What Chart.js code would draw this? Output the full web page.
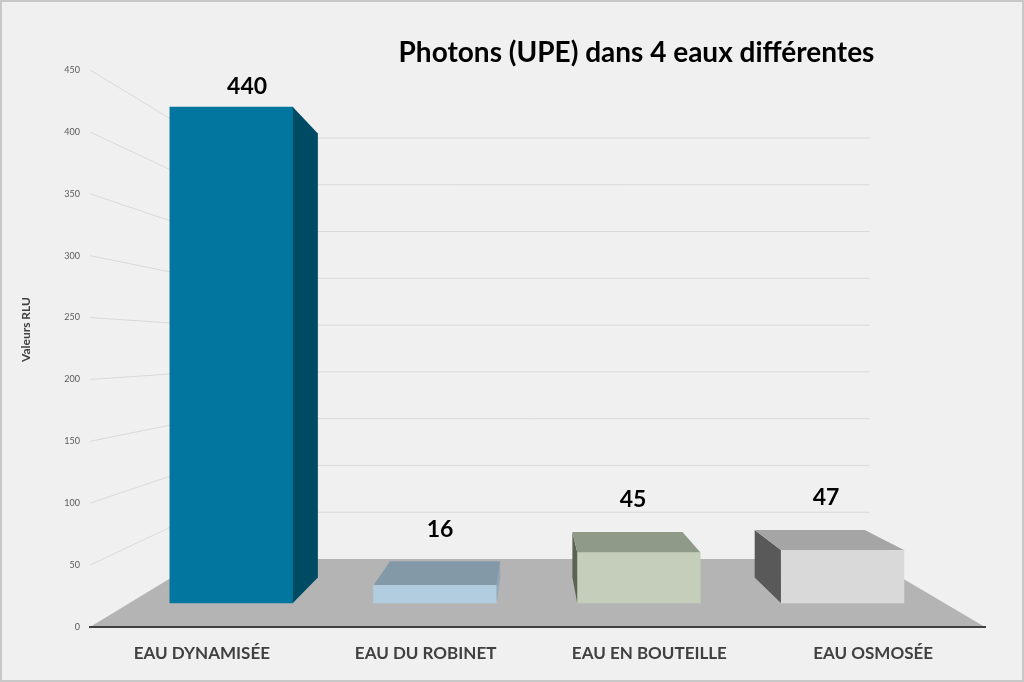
<!DOCTYPE html>
<html>
<head>
<meta charset="utf-8">
<script src="https://cdn.jsdelivr.net/npm/chart.js@4.4.1/dist/chart.umd.min.js"></script>
<style>
  html, body { margin: 0; padding: 0; background: #f0f0f0; }
  canvas { display: block; }
</style>
</head>
<body>
<canvas id="myChart" width="1024" height="682"></canvas>
<script>
const categories = ['EAU DYNAMISÉE', 'EAU DU ROBINET', 'EAU EN BOUTEILLE', 'EAU OSMOSÉE'];
const photons = [440, 16, 45, 47];
const yTicks = [0, 50, 100, 150, 200, 250, 300, 350, 400, 450];

const frontColors = ['#02769f', '#b3cde0', '#c5cebb', '#d9d9d9'];
const topColors = ['#005a78', '#8499a8', '#909a88', '#a5a5a5'];
const sideColors = ['#004b64', '#90a6b6', '#5b6355', '#595959'];

const FONT = 'Lato, sans-serif';

// 3d look: vanishing point and depth of bars / floor
const VP = { x: 531, y: 359 };
const BAR_DEPTH = 0.105;
const FLOOR_DEPTH = 0.254;

function toward(x, y, t) {
  return [x + (VP.x - x) * t, y + (VP.y - y) * t];
}

function poly(ctx, pts, color) {
  ctx.beginPath();
  ctx.moveTo(pts[0][0], pts[0][1]);
  for (let i = 1; i < pts.length; i++) ctx.lineTo(pts[i][0], pts[i][1]);
  ctx.closePath();
  ctx.fillStyle = color;
  ctx.fill();
}

const scene3d = {
  id: 'scene3d',
  afterLayout(chart) {
    // title sits right of centre in the original
    const t = chart.titleBlock;
    t.left += 137;
    t.right += 137;
    // axis title a bit above the middle of the axis
    chart.scales.y.top -= 38;
  },
  beforeDraw(chart) {
    const ctx = chart.ctx;
    const area = chart.chartArea;
    const y = chart.scales.y, yw = chart.scales.yw;
    const y0 = y.getPixelForValue(0);
    const bl = toward(area.left, y0, FLOOR_DEPTH);
    const br = toward(area.right, y0, FLOOR_DEPTH);
    ctx.save();
    ctx.strokeStyle = '#d9d9d9';
    ctx.lineWidth = 1;
    yTicks.forEach(v => {
      if (v === 0) return;
      const py = y.getPixelForValue(v), pw = yw.getPixelForValue(v);
      ctx.beginPath();
      ctx.moveTo(area.left, py);
      ctx.lineTo(bl[0], pw);
      ctx.lineTo(br[0], pw);
      ctx.stroke();
    });
    poly(ctx, [[area.left, y0], [area.right, y0], br, bl], '#b4b4b4');
    ctx.restore();
  },
  afterDatasetsDraw(chart) {
    const ctx = chart.ctx;
    const meta = chart.getDatasetMeta(0);
    ctx.save();
    meta.data.forEach((bar, i) => {
      const p = bar.getProps(['x', 'y', 'base', 'width'], true);
      const x1 = p.x - p.width / 2, x2 = p.x + p.width / 2;
      const top = p.y, base = p.base;
      const bTL = toward(x1, top, BAR_DEPTH), bTR = toward(x2, top, BAR_DEPTH);
      const bBL = toward(x1, base, BAR_DEPTH), bBR = toward(x2, base, BAR_DEPTH);
      if (x2 < VP.x) poly(ctx, [[x2, top], bTR, bBR, [x2, base]], sideColors[i]);
      if (x1 > VP.x) poly(ctx, [[x1, top], bTL, bBL, [x1, base]], sideColors[i]);
      if (top > VP.y) poly(ctx, [[x1, top], [x2, top], bTR, bTL], topColors[i]);

      const lx = (p.x + (bTL[0] + bTR[0]) / 2) / 2;
      const ly = top > VP.y ? bTL[1] - 32 : top - 20;
      ctx.fillStyle = '#000';
      ctx.font = 'bold 23px ' + FONT;
      ctx.textAlign = 'center';
      ctx.textBaseline = 'middle';
      ctx.fillText(String(photons[i]), lx, ly);
    });
    ctx.restore();
  },
  afterDraw(chart) {
    const ctx = chart.ctx;
    ctx.save();
    ctx.strokeStyle = '#c8c8c8';
    ctx.lineWidth = 2;
    ctx.strokeRect(1, 1, chart.width - 2, chart.height - 2);
    ctx.restore();
  }
};

Chart.defaults.font.family = FONT;

const ctx = document.getElementById('myChart');

new Chart(ctx, {
  type: 'bar',
  data: {
    labels: categories,
    datasets: [{
      label: 'Photons (UPE)',
      data: photons.map((v, i) => ({ x: i, y: v })),
      backgroundColor: frontColors,
      borderWidth: 0,
      barThickness: 123,
      xAxisID: 'xb',
      yAxisID: 'yb'
    }]
  },
  options: {
    responsive: false,
    animation: false,
    layout: { padding: { left: 14, right: 39, top: 0, bottom: 0 } },
    plugins: {
      legend: { display: false },
      tooltip: { enabled: false },
      title: {
        display: true,
        text: 'Photons (UPE) dans 4 eaux différentes',
        color: '#000',
        font: { size: 28, weight: 'bold', lineHeight: 1.2 },
        padding: { top: 36, bottom: 0.4 }
      }
    },
    scales: {
      x: {
        type: 'category',
        offset: true,
        grid: { display: false, drawTicks: false },
        border: { display: true, color: '#404040', width: 2 },
        ticks: { color: '#404040', font: { size: 17, weight: 'bold' }, padding: 16, maxRotation: 0, autoSkip: false },
        afterFit: s => { s.height = 55; }
      },
      y: {
        type: 'linear',
        min: 0,
        max: 450,
        grid: { display: false, drawTicks: false },
        border: { display: false },
        ticks: { stepSize: 50, color: '#595959', font: { size: 9 }, padding: 10 },
        title: { display: true, text: 'Valeurs RLU', color: '#404040', font: { size: 12, weight: 'bold' }, padding: { top: 5, bottom: 0 } },
        afterFit: s => { s.width = 76; }
      },
      // hidden scales for the front plane of the bars and the back wall
      xb: { type: 'linear', display: false, min: -0.694, max: 3.7, offset: false },
      yb: { type: 'linear', display: false, min: -21.29, max: 472.82 },
      yw: { type: 'linear', display: false, min: -72.68, max: 522.67 }
    }
  },
  plugins: [scene3d]
});
</script>
</body>
</html>
